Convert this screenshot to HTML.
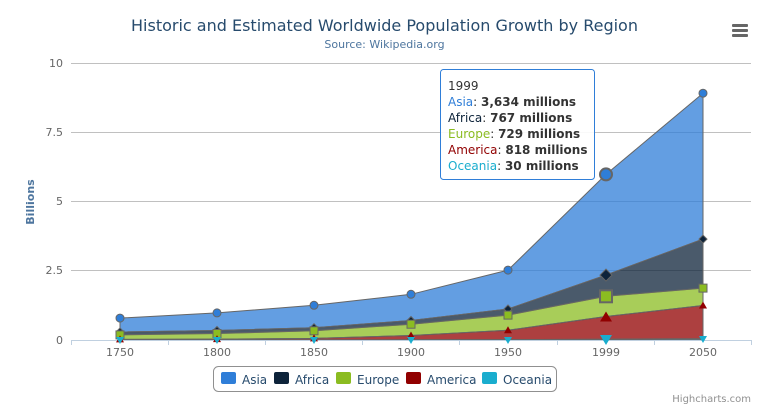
<!DOCTYPE html>
<html><head><meta charset="utf-8"><style>
html,body{margin:0;padding:0;background:#fff}
svg{display:block;font-family:"DejaVu Sans","Liberation Sans",sans-serif}
</style></head><body>
<svg width="769" height="416" viewBox="0 0 769 416" xmlns="http://www.w3.org/2000/svg">
<rect width="769" height="416" fill="#fff"/>
<text x="384.5" y="31" text-anchor="middle" font-size="16" fill="#274b6d">Historic and Estimated Worldwide Population Growth by Region</text>
<text x="384.5" y="48" text-anchor="middle" font-size="11" fill="#4d759e">Source: Wikipedia.org</text>
<g fill="#666"><rect x="732" y="24" width="16" height="3" rx="1"/><rect x="732" y="29" width="16" height="3" rx="1"/><rect x="732" y="34" width="16" height="3" rx="1"/></g>
<g stroke="#c0c0c0" stroke-width="1">
<line x1="71" y1="63.5" x2="751" y2="63.5"/><line x1="71" y1="132.5" x2="751" y2="132.5"/><line x1="71" y1="201.5" x2="751" y2="201.5"/><line x1="71" y1="270.5" x2="751" y2="270.5"/>
</g>
<g font-size="11" fill="#666" text-anchor="end">
<text x="63" y="67">10</text><text x="63" y="136">7.5</text><text x="63" y="205">5</text><text x="63" y="274">2.5</text><text x="63" y="344">0</text>
</g>
<text transform="translate(34,202) rotate(-90)" text-anchor="middle" font-size="11" font-weight="bold" fill="#4d759e">Billions</text>
<g stroke="#666" stroke-width="1" stroke-linejoin="round">
<path fill="#2f7ed8" fill-opacity="0.75" d="M120,318.1 L217,312.9 L314,305.3 L411,294.3 L508,270.1 L606,174.4 L703,93.2 L703,239.1 L606,275.1 L508,309 L411,320.5 L314,327.7 L217,330.5 L120,332 Z"/>
<path fill="#0d233a" fill-opacity="0.75" d="M120,332 L217,330.5 L314,327.7 L411,320.5 L508,309 L606,275.1 L703,239.1 L703,288.1 L606,296.3 L508,315.1 L411,324.2 L314,330.8 L217,333.5 L120,334.9 Z"/>
<path fill="#8bbc21" fill-opacity="0.75" d="M120,334.9 L217,333.5 L314,330.8 L411,324.2 L508,315.1 L606,296.3 L703,288.1 L703,305.5 L606,316.5 L508,330.2 L411,335.5 L314,338.4 L217,339.1 L120,339.4 Z"/>
<path fill="#910000" fill-opacity="0.75" d="M120,339.4 L217,339.1 L314,338.4 L411,335.5 L508,330.2 L606,316.5 L703,305.5 L703,338.7 L606,339.2 L508,339.6 L411,339.8 L314,339.9 L217,339.9 L120,339.9 Z"/>
<path fill="#1aadce" fill-opacity="0.75" d="M120,339.9 L217,339.9 L314,339.9 L411,339.8 L508,339.6 L606,339.2 L703,338.7 L703,340 L120,340 Z"/>
</g>
<line x1="71" y1="340.5" x2="751" y2="340.5" stroke="#c0d0e0"/>
<g stroke="#c0d0e0"><line x1="168.5" y1="340" x2="168.5" y2="345"/><line x1="265.5" y1="340" x2="265.5" y2="345"/><line x1="362.5" y1="340" x2="362.5" y2="345"/><line x1="459.5" y1="340" x2="459.5" y2="345"/><line x1="557.5" y1="340" x2="557.5" y2="345"/><line x1="654.5" y1="340" x2="654.5" y2="345"/><line x1="751.5" y1="340" x2="751.5" y2="345"/><line x1="71.5" y1="340" x2="71.5" y2="345"/></g>
<g font-size="11" fill="#666" text-anchor="middle">
<text x="120" y="356">1750</text><text x="217" y="356">1800</text><text x="314" y="356">1850</text><text x="411" y="356">1900</text><text x="508" y="356">1950</text><text x="606" y="356">1999</text><text x="703" y="356">2050</text>
</g>
<!-- markers -->
<g fill="#2f7ed8" stroke="#666"><circle cx="120" cy="318.1" r="4"/><circle cx="217" cy="312.9" r="4"/><circle cx="314" cy="305.3" r="4"/><circle cx="411" cy="294.3" r="4"/><circle cx="508" cy="270.1" r="4"/><circle cx="606" cy="174.4" r="6" stroke-width="2"/><circle cx="703" cy="93.2" r="4"/></g>
<g fill="#0d233a" stroke="#666"><path d="M120,328 l4,4 -4,4 -4,-4Z"/><path d="M217,326.5 l4,4 -4,4 -4,-4Z"/><path d="M314,323.7 l4,4 -4,4 -4,-4Z"/><path d="M411,316.5 l4,4 -4,4 -4,-4Z"/><path d="M508,305 l4,4 -4,4 -4,-4Z"/><path d="M606,269.1 l6,6 -6,6 -6,-6Z"/><path d="M703,235.1 l4,4 -4,4 -4,-4Z"/></g>
<g fill="#8bbc21" stroke="#666"><rect x="116" y="330.9" width="8" height="8"/><rect x="213" y="329.5" width="8" height="8"/><rect x="310" y="326.8" width="8" height="8"/><rect x="407" y="320.2" width="8" height="8"/><rect x="504" y="311.1" width="8" height="8"/><rect x="600" y="290.3" width="12" height="12" stroke-width="2"/><rect x="699" y="284.1" width="8" height="8"/></g>
<g fill="#910000"><path d="M120,335.4 l4,7 -8,0Z"/><path d="M217,335.1 l4,7 -8,0Z"/><path d="M314,334.4 l4,7 -8,0Z"/><path d="M411,331.5 l4,7 -8,0Z"/><path d="M508,326.2 l4,7 -8,0Z"/><path d="M606,311.5 l6,10 -12,0Z"/><path d="M703,301.5 l4,7 -8,0Z"/></g>
<g fill="#1aadce"><path d="M116,337 l8,0 -4,7Z"/><path d="M213,337 l8,0 -4,7Z"/><path d="M310,337 l8,0 -4,7Z"/><path d="M407,337 l8,0 -4,7Z"/><path d="M504,337 l8,0 -4,7Z"/><path d="M600,335 l12,0 -6,10Z"/><path d="M699,336 l8,0 -4,7Z"/></g>
<!-- tooltip -->
<rect x="440.5" y="69.5" width="154" height="110" rx="3" fill="#fff" fill-opacity="0.9" stroke="#2f7ed8" stroke-width="1"/>
<g font-size="12" fill="#333">
<text x="448" y="90">1999</text>
<text x="448" y="106"><tspan fill="#2f7ed8">Asia</tspan>: <tspan font-weight="bold">3,634 millions</tspan></text>
<text x="448" y="122"><tspan fill="#0d233a">Africa</tspan>: <tspan font-weight="bold">767 millions</tspan></text>
<text x="448" y="138"><tspan fill="#8bbc21">Europe</tspan>: <tspan font-weight="bold">729 millions</tspan></text>
<text x="448" y="154"><tspan fill="#910000">America</tspan>: <tspan font-weight="bold">818 millions</tspan></text>
<text x="448" y="170"><tspan fill="#1aadce">Oceania</tspan>: <tspan font-weight="bold">30 millions</tspan></text>
</g>
<!-- legend -->
<rect x="213.5" y="366.5" width="343" height="25" rx="5" fill="#fff" stroke="#909090"/>
<g font-size="12" fill="#274b6d">
<rect x="221" y="372" width="15" height="12" rx="2" fill="#2f7ed8"/><text x="242" y="384">Asia</text>
<rect x="274" y="372" width="15" height="12" rx="2" fill="#0d233a"/><text x="295" y="384">Africa</text>
<rect x="336" y="372" width="15" height="12" rx="2" fill="#8bbc21"/><text x="357" y="384">Europe</text>
<rect x="406" y="372" width="15" height="12" rx="2" fill="#910000"/><text x="427" y="384">America</text>
<rect x="482" y="372" width="15" height="12" rx="2" fill="#1aadce"/><text x="503" y="384">Oceania</text>
</g>
<text x="751" y="402" text-anchor="end" font-size="10" fill="#909090">Highcharts.com</text>
</svg>
</body></html>
